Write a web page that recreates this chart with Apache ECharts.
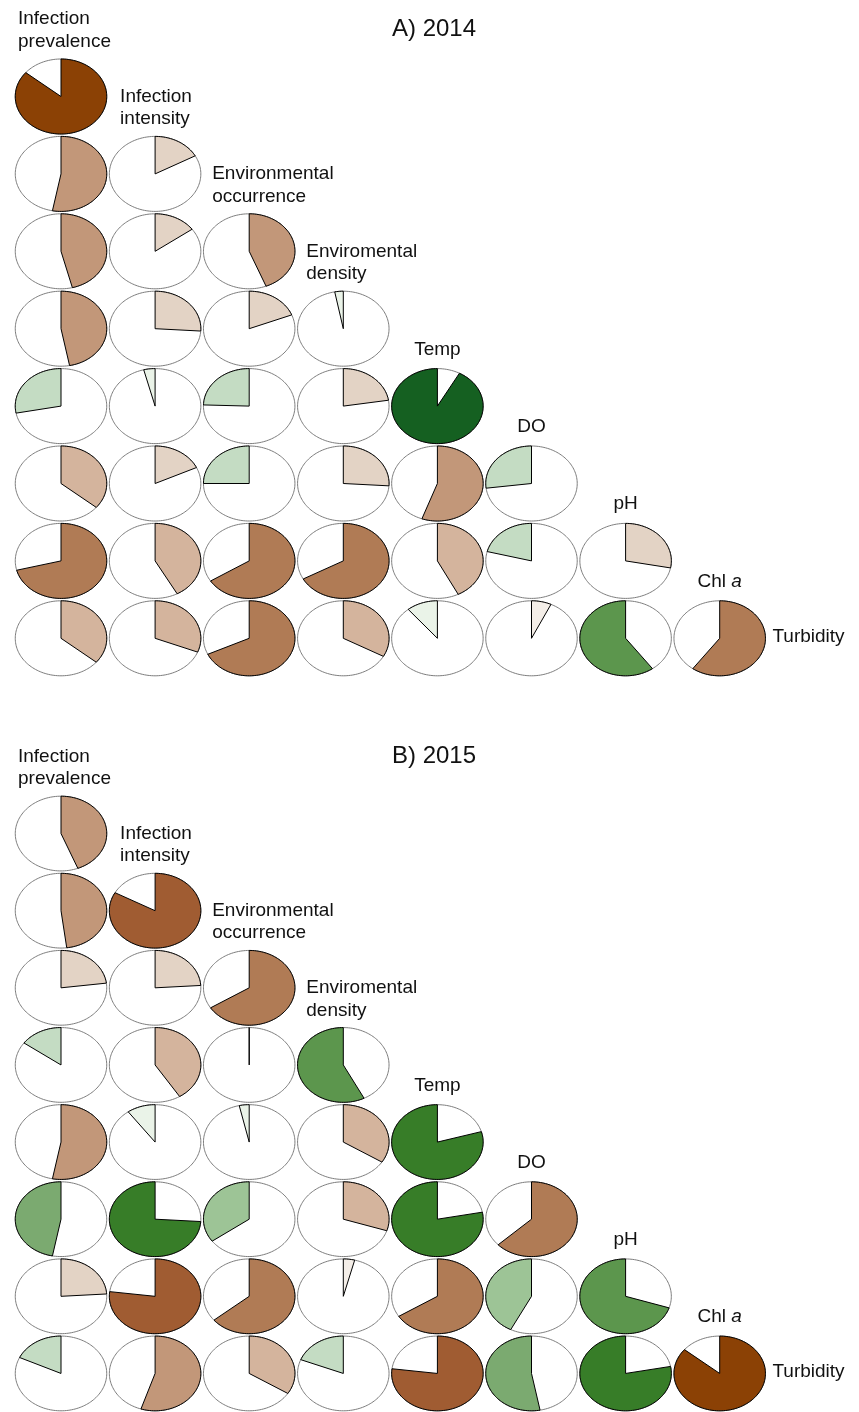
<!DOCTYPE html>
<html>
<head>
<meta charset="utf-8">
<script src="https://cdn.jsdelivr.net/npm/echarts@6/dist/echarts.min.js"></script>
<style>
  html, body { margin: 0; padding: 0; background: #ffffff; }
  #chart { width: 859px; height: 1412px; }
</style>
</head>
<body>
<div id="chart"></div>
<script>
// Variables in matrix order (columns left to right, rows top to bottom after the first)
const variables = [
  'Infection prevalence', 'Infection intensity', 'Environmental occurrence',
  'Enviromental density', 'Temp', 'DO', 'pH', 'Chl a', 'Turbidity'
];
// Column header labels as drawn (line breaks and italic "a")
const headerLabels = [
  'Infection\nprevalence', 'Infection\nintensity', 'Environmental\noccurrence',
  'Enviromental\ndensity', 'Temp', 'DO', 'pH', 'Chl {i|a}'
];
const panelTitles = ['A) 2014', 'B) 2015'];

// Lower-triangle correlations: row r holds variable r+1 against variables 0..r
const corr2014 = [
  [0.86],
  [0.53, 0.17],
  [0.46, 0.15, 0.44],
  [0.47, 0.26, 0.19, -0.03],
  [-0.28, -0.04, -0.245, 0.225, -0.92],
  [0.36, 0.18, -0.25, 0.26, 0.555, -0.27],
  [0.71, 0.42, 0.66, 0.67, 0.425, -0.21, 0.28],
  [0.36, 0.31, 0.68, 0.33, -0.11, 0.07, -0.60, 0.60]
];
const corr2015 = [
  [0.44],
  [0.48, 0.83],
  [0.23, 0.24, 0.66],
  [-0.15, 0.41, 0.0, -0.575],
  [0.53, -0.10, -0.035, 0.34, -0.795],
  [-0.47, -0.74, -0.35, 0.30, -0.78, 0.63],
  [0.24, 0.77, 0.64, 0.04, 0.66, -0.425, -0.70],
  [-0.18, 0.55, 0.34, -0.19, 0.77, -0.53, -0.78, 0.86]
];

// Seven colour steps per sign, one per 1/7 of |r|
const brownSteps = ['#f4eee8', '#e3d3c5', '#d4b49d', '#c29779', '#b07b55', '#a05c32', '#8b4105'];
const greenSteps = ['#eaf3e8', '#c4dcc3', '#9dc496', '#7baa70', '#5c964d', '#377d28', '#156021'];
function fillFor(v) {
  const idx = Math.min(6, Math.floor(Math.abs(v) * 7));
  return v >= 0 ? brownSteps[idx] : greenSteps[idx];
}

const FONT = "'Liberation Sans', Arial, Helvetica, sans-serif";
const RX = 0.486, RY = 0.4845;           // pie radii as a share of a cell
const headerDx = [-43, -35, -37, -37];    // left offsets of the two-line headers

function flatten(matrix) {
  const out = [];
  matrix.forEach((row, r) => row.forEach((v, c) => out.push([c, r, v])));
  return out;
}

function renderPie(params, api) {
  const col = api.value(0), row = api.value(1), v = api.value(2);
  const c = api.coord([col, row]);
  const rx = api.size([1, 1])[0] * RX;
  const ry = api.size([1, 1])[1] * RY;
  const outline = [];
  const n = 160;
  for (let i = 0; i < n; i++) {
    const t = (i / n) * 2 * Math.PI;
    outline.push([c[0] + rx * Math.sin(t), c[1] - ry * Math.cos(t)]);
  }
  // wedge starts at 12 o'clock: clockwise for positive, anticlockwise for negative
  const sweep = v * 2 * Math.PI;
  const steps = Math.max(1, Math.ceil(Math.abs(v) * n));
  const wedge = [[c[0], c[1]]];
  for (let i = 0; i <= steps; i++) {
    const t = (sweep * i) / steps;
    wedge.push([c[0] + rx * Math.sin(t), c[1] - ry * Math.cos(t)]);
  }
  return {
    type: 'group',
    children: [
      { type: 'polygon', shape: { points: outline },
        style: { fill: '#ffffff', stroke: '#7d7d7d', lineWidth: 1 } },
      { type: 'polygon', shape: { points: wedge },
        style: { fill: fillFor(v), stroke: '#000000', lineWidth: 1, lineJoin: 'miter' } }
    ]
  };
}

function renderLabel(params, api) {
  const k = api.value(0);
  const c = api.coord([Math.min(k, 7), Math.min(k, 7)]);
  const rx = api.size([1, 1])[0] * RX;
  const ry = api.size([1, 1])[1] * RY;
  const base = { font: '19px ' + FONT, fill: '#111111', lineHeight: 22.5,
                 rich: { i: { fontStyle: 'italic', fontSize: 19, fontFamily: FONT } } };
  if (k === 8) {
    return { type: 'text', x: c[0] + rx + 7, y: c[1] - 1.5,
      style: Object.assign({}, base, { text: variables[8], align: 'left', verticalAlign: 'middle' }) };
  }
  const multi = headerLabels[k].indexOf('\n') >= 0;
  return {
    type: 'text',
    x: multi ? c[0] + headerDx[k] : c[0],
    y: c[1] - ry - (multi ? 6 : 8),
    style: Object.assign({}, base, {
      text: headerLabels[k], align: multi ? 'left' : 'center', verticalAlign: 'bottom'
    })
  };
}

const panelTops = [57.8, 795.0];
const titleY = [28.9, 756.7];
const matrices = [corr2014, corr2015];

const grids = [], xAxes = [], yAxes = [], series = [], graphics = [];
matrices.forEach((m, p) => {
  grids.push({ left: 13.95, top: panelTops[p], width: 752.8, height: 619.2 });
  xAxes.push({ type: 'value', gridIndex: p, min: -0.5, max: 7.5, show: false });
  yAxes.push({ type: 'value', gridIndex: p, min: -0.5, max: 7.5, inverse: true, show: false });
  series.push({
    type: 'custom', xAxisIndex: p, yAxisIndex: p, clip: false, silent: true,
    renderItem: renderPie, data: flatten(m)
  });
  series.push({
    type: 'custom', xAxisIndex: p, yAxisIndex: p, clip: false, silent: true,
    renderItem: renderLabel, data: variables.map((_, k) => [k, k])
  });
  graphics.push({
    type: 'text', x: 434, y: titleY[p],
    style: { text: panelTitles[p], font: '24px ' + FONT, fill: '#111111',
             align: 'center', verticalAlign: 'middle' }
  });
});

const chart = echarts.init(document.getElementById('chart'), null, { renderer: 'canvas' });
chart.setOption({
  animation: false,
  backgroundColor: '#ffffff',
  grid: grids,
  xAxis: xAxes,
  yAxis: yAxes,
  series: series,
  graphic: graphics
});
</script>
</body>
</html>
